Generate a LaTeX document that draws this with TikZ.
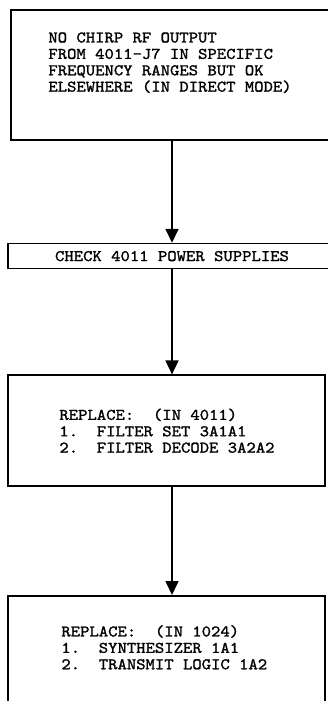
\documentclass[tikz,border=0pt]{standalone}
\usepackage{fontspec}
\setmonofont{lmmono10-regular.otf}[FakeBold=1.4, FakeStretch=1.1]
\usetikzlibrary{positioning,arrows.meta}

\begin{document}
\begin{tikzpicture}[
  x=1pt, y=1pt,
  font=\ttfamily\fontsize{16.2}{16.4}\selectfont,
  stepbox/.style={rectangle, draw, line width=1.6pt, inner sep=0pt},
  note/.style={align=left, inner sep=0pt},
  arr/.style={-{Triangle[length=14pt,width=13pt]}, line width=1.6pt}
]
\useasboundingbox (0,0) rectangle (327,-701);

\node[stepbox, minimum width=322pt, minimum height=130pt] (fault) at (172,-75) {};
\node[note, below right=23pt and 38pt of fault.north west] (faulttxt)
  {NO CHIRP RF OUTPUT\\FROM 4011-J7 IN SPECIFIC\\FREQUENCY RANGES BUT OK\\ELSEWHERE (IN DIRECT MODE)};

\node[stepbox, minimum width=328pt, minimum height=25pt, below=102pt of fault] (power)
  {CHECK 4011 POWER SUPPLIES};

\node[stepbox, minimum width=317pt, minimum height=111pt, below=105pt of power, xshift=-5.5pt] (filt) {};
\node[note, below right=34pt and 52pt of filt.north west] (filttxt)
  {REPLACE:~~(IN 4011)\\1.~~FILTER SET 3A1A1\\2.~~FILTER DECODE 3A2A2};

\node[stepbox, minimum width=317pt, minimum height=140pt, below=108pt of filt] (synth) {};
\node[note, below right=30pt and 54pt of synth.north west] (synthtxt)
  {REPLACE:~~(IN 1024)\\1.~~SYNTHESIZER 1A1\\2.~~TRANSMIT LOGIC 1A2};

\draw[arr] (fault) -- (power);
\draw[arr] (power.south) -- (power.south |- filt.north);
\draw[arr] (power.south |- filt.south) -- (power.south |- synth.north);
\end{tikzpicture}
\end{document}
